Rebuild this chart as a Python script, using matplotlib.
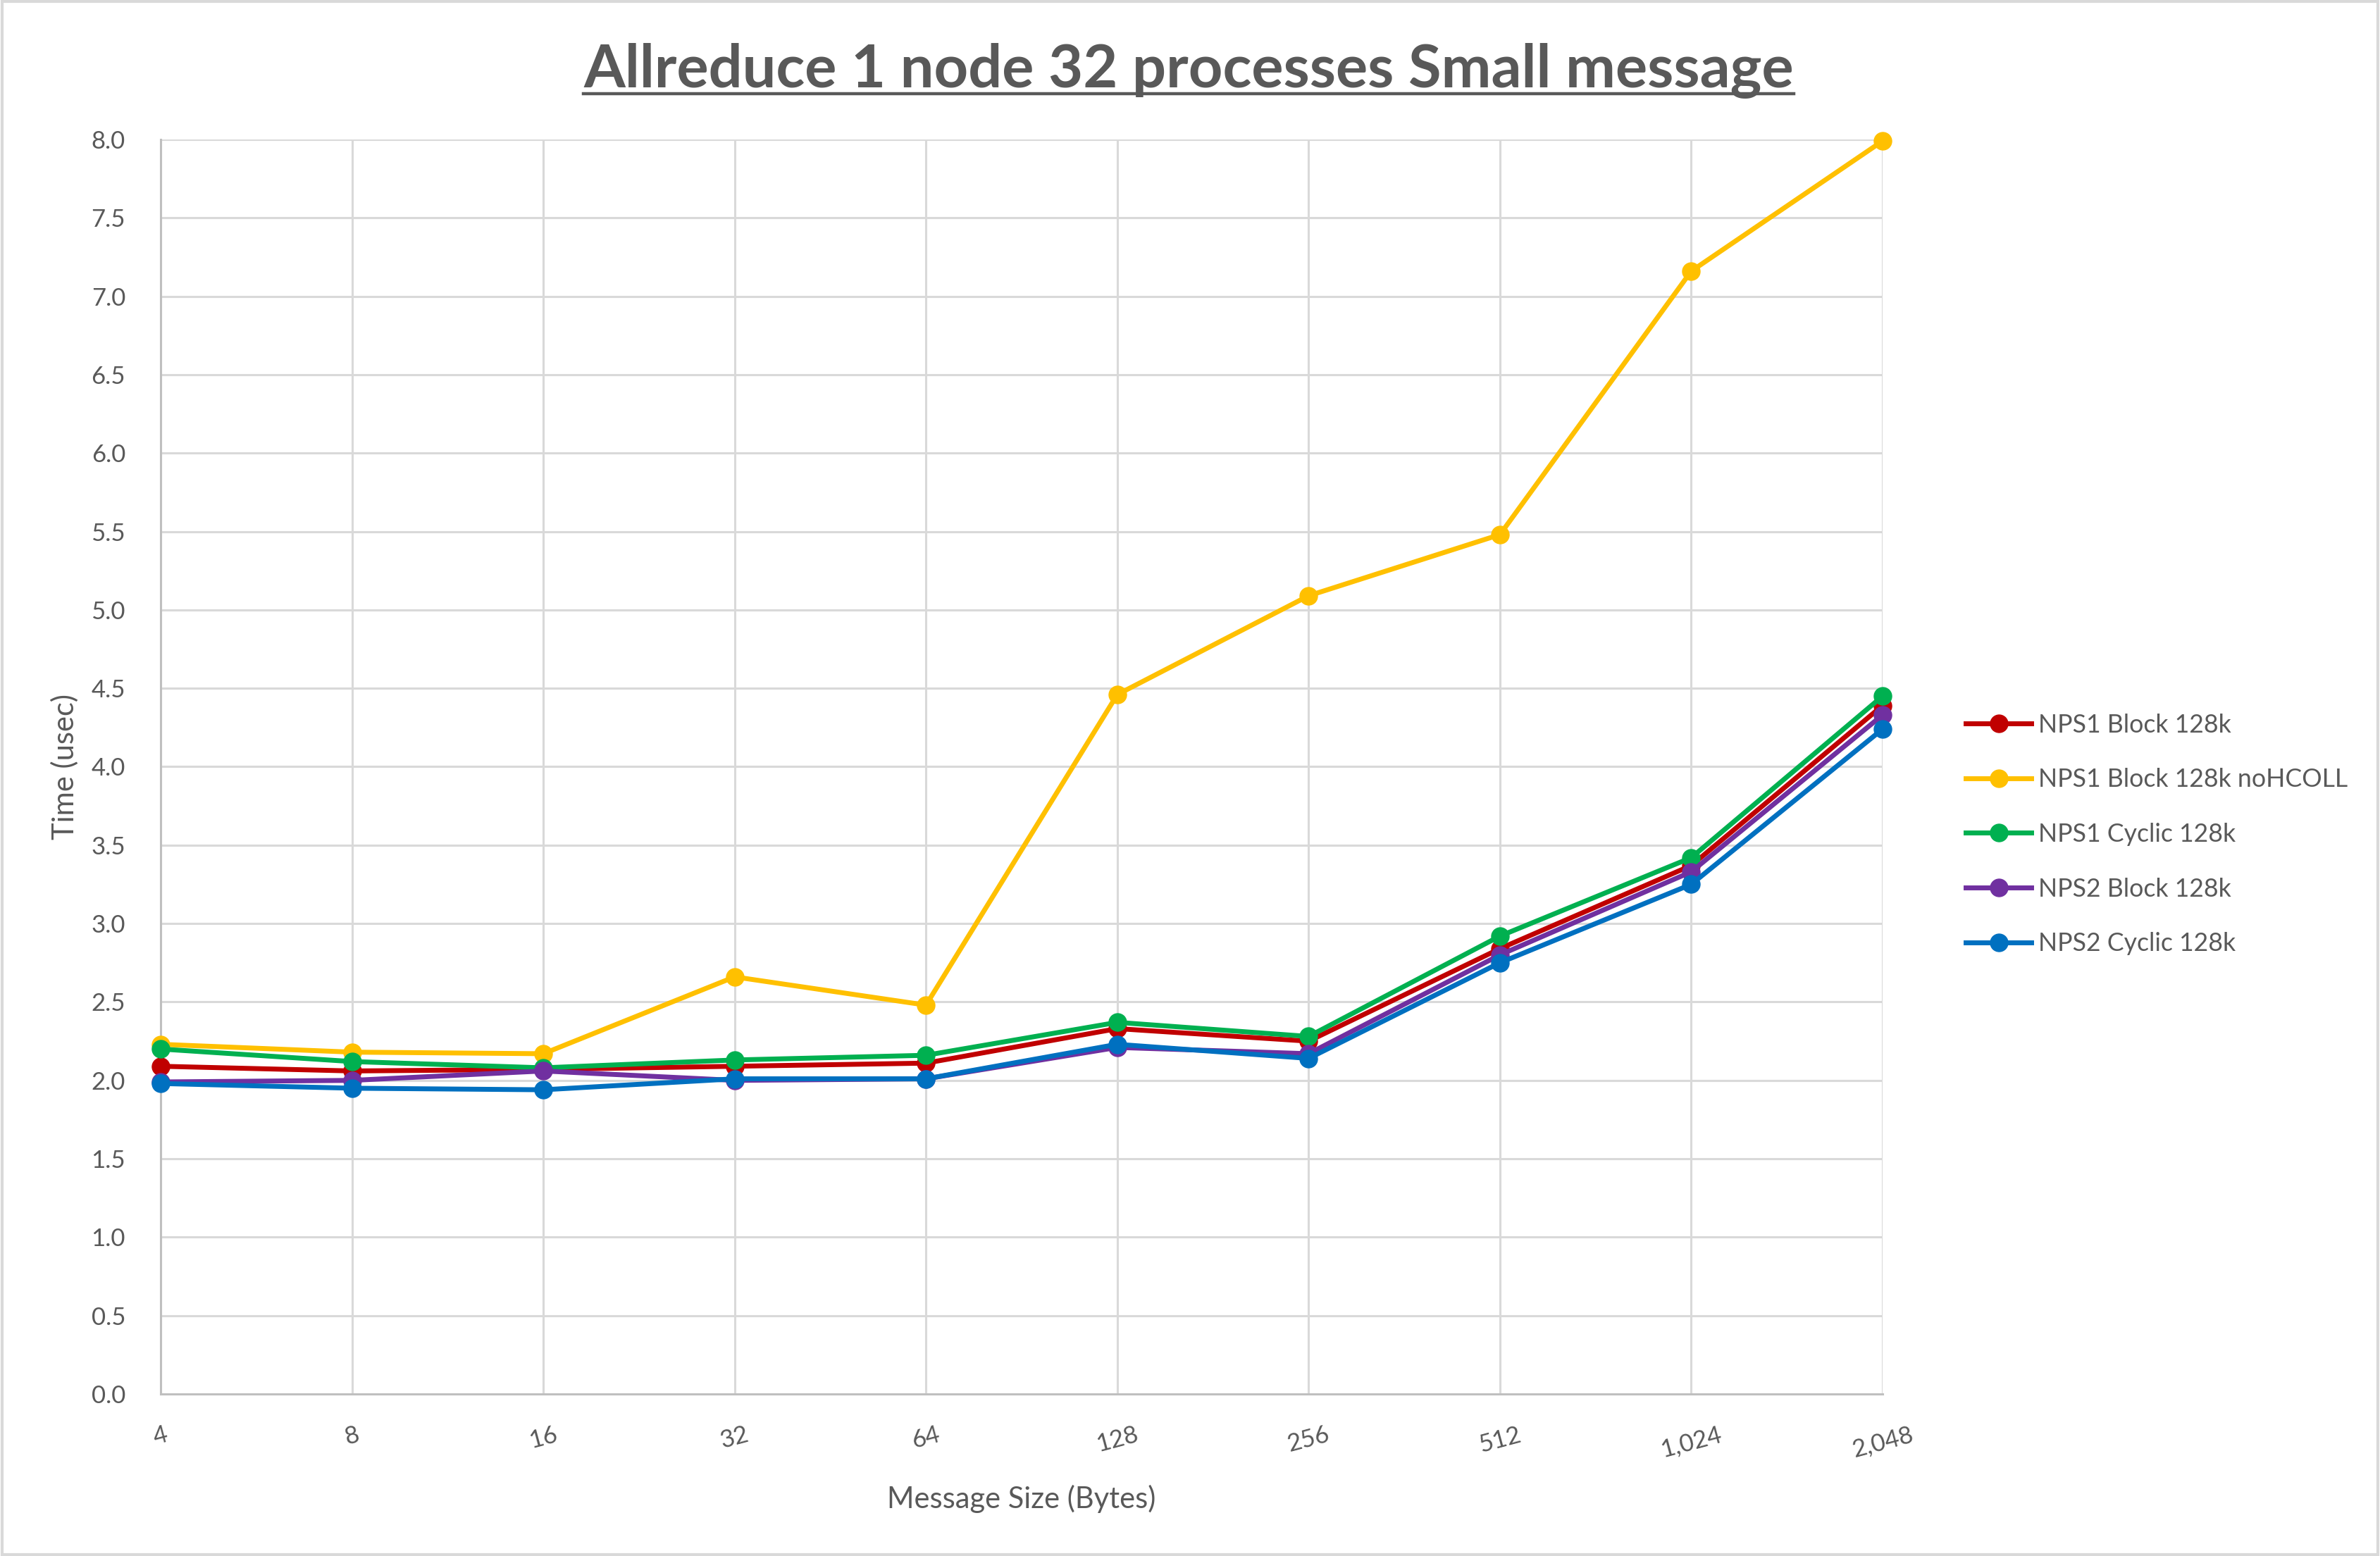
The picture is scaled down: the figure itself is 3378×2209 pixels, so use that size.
import matplotlib.pyplot as plt
from matplotlib.lines import Line2D
from matplotlib.patches import Rectangle

plt.rcParams["font.family"] = ["Lato", "DejaVu Sans"]

sizes = ["4", "8", "16", "32", "64", "128", "256", "512", "1,024", "2,048"]

nps1_block = [2.09, 2.06, 2.07, 2.09, 2.11, 2.33, 2.25, 2.84, 3.37, 4.39]
nps1_block_nohcoll = [2.23, 2.18, 2.17, 2.66, 2.48, 4.46, 5.09, 5.48, 7.16, 7.99]
nps1_cyclic = [2.20, 2.12, 2.08, 2.13, 2.16, 2.37, 2.28, 2.92, 3.42, 4.45]
nps2_block = [1.99, 2.00, 2.06, 2.00, 2.01, 2.21, 2.17, 2.80, 3.33, 4.33]
nps2_cyclic = [1.98, 1.95, 1.94, 2.01, 2.01, 2.23, 2.14, 2.75, 3.25, 4.24]

series = [
    ("NPS1 Block 128k", nps1_block, "#C00000"),
    ("NPS1 Block 128k noHCOLL", nps1_block_nohcoll, "#FFC000"),
    ("NPS1 Cyclic 128k", nps1_cyclic, "#00B050"),
    ("NPS2 Block 128k", nps2_block, "#7030A0"),
    ("NPS2 Cyclic 128k", nps2_cyclic, "#0070C0"),
]

text_color = "#595959"
grid_color = "#D9D9D9"

fig = plt.figure(figsize=(33.78, 22.09), dpi=100)
ax = fig.add_axes([0.0675, 0.1041, 0.7235, 0.8063])

x = list(range(len(sizes)))
for label, values, color in series:
    ax.plot(x, values, color=color, linewidth=5, marker="o", markersize=18,
            label=label, clip_on=False, zorder=3)

ax.set_xlim(0, len(sizes) - 1)
ax.set_ylim(0, 8)
ax.set_yticks([i * 0.5 for i in range(17)])
ax.set_yticklabels([f"{i * 0.5:.1f}" for i in range(17)])
ax.set_xticks(x)
ax.set_xticklabels(sizes, rotation=15)

ax.grid(True, color=grid_color, linewidth=2.2, zorder=0)
ax.set_axisbelow(True)
for side in ["top", "right"]:
    ax.spines[side].set_visible(False)
for side in ["left", "bottom"]:
    ax.spines[side].set_color("#BFBFBF")
    ax.spines[side].set_linewidth(2.2)

ax.tick_params(axis="both", length=0, labelsize=25, labelcolor=text_color)
ax.tick_params(axis="y", pad=36)
ax.tick_params(axis="x", pad=30)

ax.set_xlabel("Message Size (Bytes)", fontsize=30, color=text_color, labelpad=24)
ax.set_ylabel("Time (usec)", fontsize=30, color=text_color, labelpad=13)

title = fig.text(0.4995, 0.955, "Allreduce 1 node 32 processes Small message",
                 ha="center", va="center", fontsize=61, fontweight="bold",
                 color=text_color)

fig.legend(loc="center left", bbox_to_anchor=(0.826, 0.4638), frameon=False,
           fontsize=25.7, labelcolor=text_color, handlelength=2.6,
           handletextpad=0.28, labelspacing=1.25, borderaxespad=0,
           borderpad=0)

# underline the title
fig.canvas.draw()
bb = title.get_window_extent().transformed(fig.transFigure.inverted())
uy = 1 - 133 / 2209
fig.add_artist(Line2D([bb.x0, bb.x1], [uy, uy], color=text_color, linewidth=3.2))

# chart border
fig.add_artist(Rectangle((0.001, 0.001), 0.998, 0.998, transform=fig.transFigure,
                         fill=False, edgecolor=grid_color, linewidth=3))

fig.savefig("out.png", dpi=100)
